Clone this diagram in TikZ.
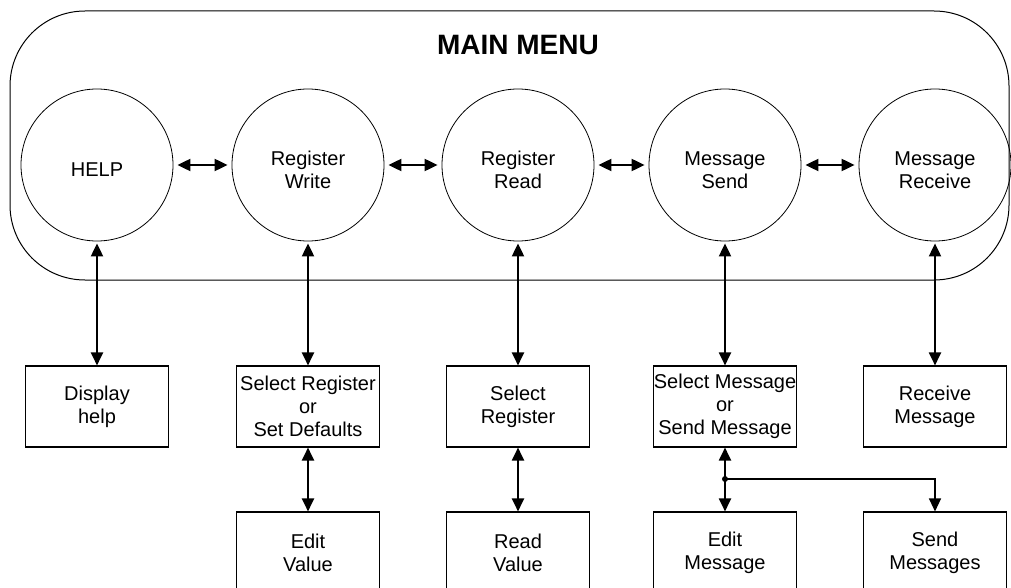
\documentclass[tikz,border=0pt]{standalone}
\usepackage{fontspec}
\setmainfont{Liberation Sans}
\usepackage{tikz}
\usetikzlibrary{arrows.meta}

\begin{document}
\begin{tikzpicture}[x=1pt,y=-1pt]
\tikzstyle{every node}+=[inner sep=0pt, font=\fontsize{20}{23}\selectfont]
\tikzstyle{menustate}=[draw, circle, minimum size=152pt, line width=0.8pt, align=center]
\tikzstyle{statetext}=[align=center, yshift=-5pt]
\tikzstyle{taskbox}=[draw, rectangle, minimum width=143pt, minimum height=81pt, line width=1.1pt, align=center]
\tikzstyle{link}=[line width=2pt, {Triangle[length=13pt,width=12pt]}-{Triangle[length=13pt,width=12pt]}]
\tikzstyle{feed}=[line width=1.2pt, -{Triangle[length=13pt,width=12pt]}]
\useasboundingbox (0,0) rectangle (1011,588);
% main menu frame
\draw [black, line width=1pt, rounded corners=75pt] (10,11) rectangle (1009,280);
\node [font=\bfseries\fontsize{28}{32}\selectfont] (title) at (518,45) {MAIN MENU};
% menu states
\node [menustate, label={[statetext]center:HELP}] (help) at (97,165) {};
\node [menustate, label={[statetext]center:Register\\Write}] (regwrite) at (308,165) {};
\node [menustate, label={[statetext]center:Register\\Read}] (regread) at (518,165) {};
\node [menustate, label={[statetext]center:Message\\Send}] (msgsend) at (725,165) {};
\node [menustate, label={[statetext]center:Message\\Receive}] (msgrecv) at (935,165) {};
% first row of tasks
\node [taskbox] (disphelp) at (97,406.5) {Display\\help};
\node [taskbox] (selreg) at (308,406.5) {Select Register\\or\\Set Defaults};
\node [taskbox] (selread) at (518,406.5) {Select\\Register};
\node [taskbox] (selmsg) at (725,406.5) {Select Message\\or\\Send Message};
\node [taskbox] (recvmsg) at (935,406.5) {Receive\\Message};
% second row of tasks
\node [taskbox] (editval) at (308,552.5) {Edit\\Value};
\node [taskbox] (readval) at (518,552.5) {Read\\Value};
\node [taskbox] (editmsg) at (725,552.5) {Edit\\Message};
\node [taskbox] (sendmsgs) at (935,552.5) {Send\\Messages};
% moves between states
\draw [link, shorten <=4pt, shorten >=4pt] (help) -- (regwrite);
\draw [link, shorten <=4pt, shorten >=4pt] (regwrite) -- (regread);
\draw [link, shorten <=4pt, shorten >=4pt] (regread) -- (msgsend);
\draw [link, shorten <=4pt, shorten >=4pt] (msgsend) -- (msgrecv);
% states to tasks
\draw [link, shorten <=2pt] (help) -- (disphelp);
\draw [link, shorten <=2pt] (regwrite) -- (selreg);
\draw [link, shorten <=2pt] (regread) -- (selread);
\draw [link, shorten <=2pt] (msgsend) -- (selmsg);
\draw [link, shorten <=2pt] (msgrecv) -- (recvmsg);
% tasks to sub tasks
\draw [link] (selreg) -- (editval);
\draw [link] (selread) -- (readval);
\draw [link] (selmsg) -- (editmsg);
\coordinate (fork) at (725,479);
\fill [black] (fork) circle (3pt);
\draw [feed] (fork) -| (sendmsgs);
\end{tikzpicture}
\end{document}
